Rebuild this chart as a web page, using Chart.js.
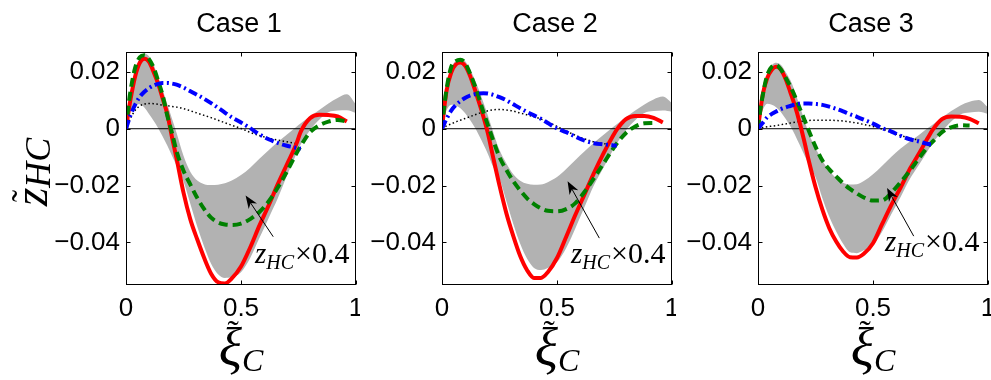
<!DOCTYPE html>
<html>
<head>
<meta charset="utf-8">
<script src="https://cdn.jsdelivr.net/npm/chart.js@4.4.1/dist/chart.umd.min.js"></script>
<style>
  html, body { margin: 0; padding: 0; background: #fff; }
  #wrap { position: relative; width: 991px; height: 380px; overflow: hidden; background: #fff; }
  #wrap canvas { position: absolute; top: 0; }
</style>
</head>
<body>
<div id="wrap">
  <canvas id="c1" width="360" height="380" style="left:0px"></canvas>
  <canvas id="c2" width="360" height="380" style="left:316px"></canvas>
  <canvas id="c3" width="360" height="380" style="left:632px"></canvas>
</div>
<script>
// ---- data ---------------------------------------------------------------
const caseTitles = ['Case 1', 'Case 2', 'Case 3'];
const xTickValues = [0, 0.5, 1];
const yTickValues = [-0.04, -0.02, 0, 0.02];

// common abscissa for all curves
const xiGrid = [0, 0.01, 0.02, 0.04, 0.06, 0.08, 0.1, 0.12, 0.14, 0.16,
  0.18, 0.2, 0.22, 0.25, 0.28, 0.31, 0.34, 0.37, 0.4, 0.43,
  0.46, 0.5, 0.54, 0.58, 0.62, 0.66, 0.7, 0.74, 0.76, 0.8,
  0.84, 0.88, 0.92, 0.96, 1.0];

// Case 1
const case1Red = [0, 0.0055, 0.0105, 0.0185, 0.0232, 0.0246, 0.0235, 0.0200, 0.0158, 0.0105,
  0.0050, -0.0030, -0.0105, -0.0225, -0.0320, -0.0390, -0.0455, -0.0510, -0.0540, -0.0545,
  -0.0527, -0.0485, -0.0418, -0.0341, -0.0270, -0.0195, -0.0125, -0.0055, -0.0010, 0.0037,
  0.0049, 0.0048, 0.0043, 0.0025, null];
const case1Green = [0, 0.0075, 0.0135, 0.0215, 0.0252, 0.0259, 0.0245, 0.0215, 0.0168, 0.0115,
  0.0045, -0.0015, -0.0080, -0.0148, -0.0197, -0.0244, -0.0283, -0.0313, -0.0330, -0.0337,
  -0.0339, -0.0334, -0.0318, -0.0293, -0.0256, -0.0207, -0.0150, -0.0088, -0.0060, -0.0012,
  0.0012, 0.0025, 0.0031, 0.0025, null];
const case1Blue = [0, 0.0025, 0.0048, 0.0085, 0.0112, 0.0130, 0.0143, 0.0152, 0.0158, 0.0161,
  0.0161, 0.0159, 0.0155, 0.0145, 0.0132, 0.0119, 0.0105, 0.0090, 0.0074, 0.0057,
  0.0040, 0.0022, 0.0002, -0.0020, -0.0037, -0.0050, -0.0060, -0.0067, -0.0070, null,
  null, null, null, null, null];
const case1Dotted = [0, 0.0020, 0.0038, 0.0065, 0.0080, 0.0087, 0.0089, 0.0088, 0.0086, 0.0083,
  0.0081, 0.0078, 0.0076, 0.0071, 0.0063, 0.0055, 0.0047, 0.0039, 0.0030, 0.0021,
  0.0012, 0.0001, -0.0013, -0.0024, -0.0033, -0.0040, -0.0046, -0.0052, null, null,
  null, null, null, null, null];
const case1Upper = [0, 0.0070, 0.0130, 0.0205, 0.0248, 0.0265, 0.0255, 0.0225, 0.0182, 0.0135,
  0.0085, 0.0035, -0.0015, -0.0095, -0.0152, -0.0182, -0.0195, -0.0198, -0.0197, -0.0192,
  -0.0182, -0.0163, -0.0137, -0.0106, -0.0076, -0.0047, -0.0020, 0.0006, 0.0019, 0.0043,
  0.0066, 0.0089, 0.0108, 0.0121, 0.0085];
const case1Lower = [0, 0.0035, 0.0060, 0.0085, 0.0086, 0.0075, 0.0052, 0.0028, 0.0002, -0.0028,
  -0.0060, -0.0095, -0.0130, -0.0185, -0.0265, -0.0345, -0.0415, -0.0475, -0.0512, -0.0525,
  -0.0522, -0.0505, -0.0455, -0.0385, -0.0315, -0.0245, -0.0165, -0.0090, -0.0055, -0.0005,
  0.0032, 0.0058, 0.0064, 0.0065, 0.0055];

// Case 2
const case2Red = [0, 0.0075, 0.0135, 0.0198, 0.0226, 0.0233, 0.0222, 0.0190, 0.0145, 0.0095,
  0.0042, -0.0018, -0.0092, -0.0200, -0.0298, -0.0378, -0.0448, -0.0498, -0.0525, -0.0525,
  -0.0505, -0.0455, -0.0380, -0.0303, -0.0230, -0.0157, -0.0090, -0.0030, -0.0003, 0.0034,
  0.0045, 0.0045, 0.0038, 0.0022, null];
const case2Green = [0, 0.0080, 0.0140, 0.0218, 0.0238, 0.0243, 0.0232, 0.0198, 0.0158, 0.0110,
  0.0058, 0.0012, -0.0035, -0.0100, -0.0145, -0.0185, -0.0217, -0.0245, -0.0265, -0.0280,
  -0.0289, -0.0291, -0.0283, -0.0262, -0.0222, -0.0175, -0.0125, -0.0075, -0.0052, -0.0015,
  0.0008, 0.0019, 0.0020, null, null];
const case2Blue = [0, 0.0018, 0.0035, 0.0064, 0.0083, 0.0097, 0.0108, 0.0116, 0.0121, 0.0124,
  0.0125, 0.0124, 0.0120, 0.0111, 0.0100, 0.0086, 0.0072, 0.0059, 0.0047, 0.0035,
  0.0020, 0.0001, -0.0012, -0.0028, -0.0042, -0.0051, -0.0055, -0.0058, -0.0060, null,
  null, null, null, null, null];
const case2Dotted = [0, 0.0005, 0.0010, 0.0017, 0.0024, 0.0030, 0.0036, 0.0042, 0.0048, 0.0054,
  0.0059, 0.0063, 0.0066, 0.0068, 0.0066, 0.0062, 0.0055, 0.0049, 0.0042, 0.0034,
  0.0024, 0.0008, -0.0008, -0.0023, -0.0036, -0.0046, -0.0052, -0.0056, null, null,
  null, null, null, null, null];
const case2Upper = [0, 0.0075, 0.0135, 0.0210, 0.0240, 0.0248, 0.0238, 0.0212, 0.0178, 0.0138,
  0.0092, 0.0045, -0.0005, -0.0075, -0.0122, -0.0160, -0.0183, -0.0194, -0.0197, -0.0196,
  -0.0188, -0.0170, -0.0142, -0.0110, -0.0079, -0.0050, -0.0023, 0.0003, 0.0016, 0.0040,
  0.0064, 0.0085, 0.0103, 0.0113, 0.0090];
const case2Lower = [0, 0.0040, 0.0065, 0.0084, 0.0082, 0.0072, 0.0055, 0.0033, 0.0008, -0.0022,
  -0.0055, -0.0090, -0.0130, -0.0175, -0.0255, -0.0335, -0.0405, -0.0458, -0.0490, -0.0497,
  -0.0490, -0.0470, -0.0420, -0.0350, -0.0275, -0.0200, -0.0140, -0.0080, -0.0052, -0.0005,
  0.0030, 0.0055, 0.0062, 0.0064, 0.0060];

// Case 3
const case3Red = [0, 0.0062, 0.0118, 0.0178, 0.0208, 0.0218, 0.0207, 0.0175, 0.0130, 0.0082,
  0.0025, -0.0040, -0.0110, -0.0205, -0.0285, -0.0350, -0.0397, -0.0432, -0.0452, -0.0453,
  -0.0440, -0.0403, -0.0335, -0.0268, -0.0207, -0.0142, -0.0087, -0.0030, -0.0003, 0.0034,
  0.0043, 0.0042, 0.0035, 0.0019, null];
const case3Green = [0, 0.0065, 0.0115, 0.0188, 0.0218, 0.0223, 0.0208, 0.0180, 0.0150, 0.0115,
  0.0075, 0.0035, -0.0005, -0.0063, -0.0112, -0.0143, -0.0168, -0.0192, -0.0212, -0.0228,
  -0.0242, -0.0253, -0.0252, -0.0225, -0.0188, -0.0148, -0.0104, -0.0062, -0.0045, -0.0012,
  0.0005, 0.0012, 0.0011, null, null];
const case3Blue = [0, 0.0010, 0.0020, 0.0040, 0.0052, 0.0061, 0.0069, 0.0075, 0.0080, 0.0085,
  0.0088, 0.0089, 0.0089, 0.0087, 0.0084, 0.0078, 0.0070, 0.0061, 0.0051, 0.0042,
  0.0032, 0.0018, 0.0002, -0.0010, -0.0025, -0.0037, -0.0045, -0.0054, -0.0055, null,
  null, null, null, null, null];
const case3Dotted = [0, 0.0002, 0.0004, 0.0007, 0.0009, 0.0011, 0.0014, 0.0017, 0.0020, 0.0023,
  0.0025, 0.0027, 0.0029, 0.0030, 0.0030, 0.0030, 0.0029, 0.0027, 0.0024, 0.0020,
  0.0015, 0.0008, -0.0001, -0.0013, -0.0024, -0.0033, -0.0040, null, null, null,
  null, null, null, null, null];
const case3Upper = [0, 0.0070, 0.0120, 0.0190, 0.0223, 0.0232, 0.0224, 0.0200, 0.0172, 0.0132,
  0.0083, 0.0035, -0.0015, -0.0068, -0.0113, -0.0148, -0.0174, -0.0190, -0.0196, -0.0195,
  -0.0184, -0.0160, -0.0130, -0.0099, -0.0070, -0.0045, -0.0022, 0.0003, 0.0015, 0.0038,
  0.0062, 0.0082, 0.0095, 0.0101, 0.0075];
const case3Lower = [0, 0.0040, 0.0065, 0.0088, 0.0084, 0.0075, 0.0058, 0.0035, 0.0010, -0.0020,
  -0.0055, -0.0090, -0.0125, -0.0170, -0.0245, -0.0310, -0.0362, -0.0405, -0.0435, -0.0438,
  -0.0428, -0.0410, -0.0362, -0.0300, -0.0240, -0.0177, -0.0127, -0.0075, -0.0050, -0.0010,
  0.0025, 0.0050, 0.0057, 0.0060, 0.0052];

const scaleFactorLabel = '\u00d70.4';

// ---- drawing ------------------------------------------------------------
const SANS = '"Liberation Sans", Arial, Helvetica, sans-serif';
const SERIF = '"Liberation Serif", "Times New Roman", serif';
const BAND = 'rgb(178,178,178)';

function toPoints(xs, ys) {
  const out = [];
  xs.forEach((x, i) => { if (ys[i] !== null && ys[i] !== undefined) out.push({ x, y: ys[i] }); });
  return out;
}

function tickText(v) {
  if (Math.abs(v) < 1e-12) return '0';
  const s = String(+v.toFixed(3));
  return s.replace(/^-/, '\u2212');
}

// z_HC x0.4 label next to the arrow pointing into the band
function drawScaledLabel(ctx, x, y) {
  ctx.textAlign = 'left';
  ctx.textBaseline = 'alphabetic';
  ctx.fillStyle = '#000';
  ctx.font = 'italic 29px ' + SERIF;
  ctx.fillText('z', x, y);
  let cx = x + ctx.measureText('z').width;
  ctx.font = 'italic 20px ' + SERIF;
  ctx.fillText('HC', cx, y + 6);
  cx += ctx.measureText('HC').width + 1;
  ctx.font = '30px ' + SERIF;
  ctx.fillText(scaleFactorLabel, cx, y);
}

function drawArrow(ctx, x0, y0, x1, y1) {
  const ang = Math.atan2(y1 - y0, x1 - x0);
  const len = 13, half = 5;
  ctx.strokeStyle = '#000';
  ctx.lineWidth = 1;
  ctx.beginPath();
  ctx.moveTo(x0, y0);
  ctx.lineTo(x1 - Math.cos(ang) * len * 0.6, y1 - Math.sin(ang) * len * 0.6);
  ctx.stroke();
  const bx = x1 - Math.cos(ang) * len, by = y1 - Math.sin(ang) * len;
  const nx = -Math.sin(ang), ny = Math.cos(ang);
  const mx = x1 - Math.cos(ang) * len * 0.7, my = y1 - Math.sin(ang) * len * 0.7;
  ctx.fillStyle = '#000';
  ctx.beginPath();
  ctx.moveTo(x1, y1);
  ctx.lineTo(bx + nx * half, by + ny * half);
  ctx.lineTo(mx, my);
  ctx.lineTo(bx - nx * half, by - ny * half);
  ctx.closePath();
  ctx.fill();
}

function drawXLabel(ctx, cx) {
  ctx.fillStyle = '#000';
  ctx.textBaseline = 'alphabetic';
  ctx.textAlign = 'left';
  ctx.font = 'italic 54px ' + SERIF;
  const wXi = ctx.measureText('\u03be').width;
  ctx.font = 'italic 32px ' + SERIF;
  const wC = ctx.measureText('C').width;
  const x0 = cx - (wXi + wC) / 2;
  ctx.font = 'italic 54px ' + SERIF;
  ctx.fillText('\u03be', x0, 366);
  ctx.font = '34px ' + SERIF;
  ctx.textAlign = 'center';
  ctx.fillText('\u02dc', x0 + wXi * 0.62, 344);
  ctx.textAlign = 'left';
  ctx.font = 'italic 32px ' + SERIF;
  ctx.fillText('C', x0 + wXi, 371);
}

function drawYLabel(ctx, bx, cy) {
  ctx.save();
  ctx.translate(bx, cy);
  ctx.rotate(-Math.PI / 2);
  ctx.fillStyle = '#000';
  ctx.textBaseline = 'alphabetic';
  ctx.textAlign = 'left';
  ctx.font = 'italic 48px ' + SERIF;
  const wz = ctx.measureText('z').width;
  ctx.font = 'italic 36px ' + SERIF;
  const wh = ctx.measureText('HC').width;
  const x0 = -(wz + wh) / 2;
  ctx.font = 'italic 48px ' + SERIF;
  ctx.fillText('z', x0, 0);
  ctx.font = '36px ' + SERIF;
  ctx.textAlign = 'center';
  ctx.fillText('\u02dc', x0 + wz * 0.55, -10);
  ctx.textAlign = 'left';
  ctx.font = 'italic 36px ' + SERIF;
  ctx.fillText('HC', x0 + wz, 3);
  ctx.restore();
}

const panelDecor = {
  id: 'panelDecor',
  afterDatasetsDraw(chart, args, opts) {
    const { ctx, chartArea: a, scales: { x, y } } = chart;
    ctx.save();
    ctx.strokeStyle = '#000';
    ctx.lineWidth = 1;
    const L = Math.round(a.left) + 0.5, T = Math.round(a.top) + 0.5;
    const R = Math.round(a.right) - 0.5, B = Math.round(a.bottom) - 0.5;
    ctx.strokeRect(L, T, R - L, B - T);
    const tl = 4;
    ctx.beginPath();
    xTickValues.forEach(v => {
      const px = Math.round(x.getPixelForValue(v)) + 0.5;
      ctx.moveTo(px, B); ctx.lineTo(px, B - tl);
      ctx.moveTo(px, T); ctx.lineTo(px, T + tl);
    });
    yTickValues.forEach(v => {
      const py = Math.round(y.getPixelForValue(v)) + 0.5;
      ctx.moveTo(L, py); ctx.lineTo(L + tl, py);
      ctx.moveTo(R, py); ctx.lineTo(R - tl, py);
    });
    ctx.stroke();
    ctx.restore();
  },
  afterDraw(chart, args, opts) {
    const { ctx, chartArea: a, scales: { x, y } } = chart;
    ctx.save();
    // panel title
    ctx.fillStyle = '#000';
    ctx.font = '27px ' + SANS;
    ctx.textAlign = 'center';
    ctx.textBaseline = 'alphabetic';
    ctx.fillText(opts.title, (a.left + a.right) / 2 - 2, 32);
    // arrow + scaled label
    drawArrow(ctx, x.getPixelForValue(opts.tail[0]), y.getPixelForValue(opts.tail[1]),
      x.getPixelForValue(opts.tip[0]), y.getPixelForValue(opts.tip[1]));
    drawScaledLabel(ctx, x.getPixelForValue(opts.label[0]), y.getPixelForValue(opts.label[1]));
    // axis titles
    drawXLabel(ctx, (a.left + a.right) / 2);
    if (opts.yTitle) drawYLabel(ctx, 47, 172);
    ctx.restore();
  }
};

function makePanel(canvasId, title, red, green, blue, dotted, upper, lower, deco) {
  const line = (data, color, width, dash, order) => ({
    data, borderColor: color, borderWidth: width, borderDash: dash,
    pointRadius: 0, fill: false, order, cubicInterpolationMode: 'monotone',
    borderCapStyle: 'butt'
  });
  const datasets = [
    line(toPoints(xiGrid, blue), '#0000ff', 4, [9, 3.5, 2, 3.5], 1),
    line(toPoints(xiGrid, green), '#008000', 4, [9, 5], 2),
    line(toPoints(xiGrid, red), '#ff0000', 4, [], 3),
    line(toPoints(xiGrid, dotted), '#000000', 1.5, [1.5, 2.5], 4),
    { data: [{ x: 0, y: 0 }, { x: 1, y: 0 }], borderColor: '#000', borderWidth: 1,
      pointRadius: 0, fill: false, order: 5, tension: 0 },
    { data: toPoints(xiGrid, upper), borderColor: 'rgba(0,0,0,0)', borderWidth: 1,
      backgroundColor: BAND, pointRadius: 0, fill: '+1', order: 10,
      cubicInterpolationMode: 'monotone' },
    { data: toPoints(xiGrid, lower), borderColor: 'rgba(0,0,0,0)', borderWidth: 1,
      pointRadius: 0, fill: false, order: 11, cubicInterpolationMode: 'monotone' }
  ];
  return new Chart(document.getElementById(canvasId), {
    type: 'line',
    data: { datasets },
    options: {
      responsive: false,
      animation: false,
      devicePixelRatio: 1,
      layout: { padding: { left: 0, right: 4, top: 52, bottom: 55 } },
      plugins: {
        legend: { display: false },
        tooltip: { enabled: false },
        panelDecor: Object.assign({ title }, deco)
      },
      scales: {
        x: {
          type: 'linear', min: 0, max: 1, position: 'bottom',
          afterBuildTicks: s => { s.ticks = xTickValues.map(v => ({ value: v })); },
          afterFit: s => { s.height = 40; s.paddingLeft = 0; s.paddingRight = 0; },
          grid: { display: false, drawTicks: false },
          border: { display: false },
          ticks: {
            color: '#000', font: { family: SANS, size: 26 }, padding: 8,
            maxRotation: 0, autoSkip: false, callback: v => tickText(v)
          }
        },
        y: {
          type: 'linear', min: -0.055, max: 0.027,
          afterBuildTicks: s => { s.ticks = yTickValues.map(v => ({ value: v })); },
          afterFit: s => { s.width = 126; s.paddingTop = 0; s.paddingBottom = 0; },
          grid: { display: false, drawTicks: false },
          border: { display: false },
          ticks: {
            color: '#000', font: { family: SANS, size: 26 }, padding: 6,
            autoSkip: false, callback: v => tickText(v)
          }
        }
      }
    },
    plugins: [panelDecor]
  });
}

makePanel('c1', caseTitles[0], case1Red, case1Green, case1Blue, case1Dotted, case1Upper, case1Lower,
  { tip: [0.52, -0.0235], tail: [0.64, -0.038], label: [0.561, -0.0472], yTitle: true });
makePanel('c2', caseTitles[1], case2Red, case2Green, case2Blue, case2Dotted, case2Upper, case2Lower,
  { tip: [0.546, -0.0185], tail: [0.684, -0.0385], label: [0.561, -0.0472], yTitle: false });
makePanel('c3', caseTitles[2], case3Red, case3Green, case3Blue, case3Dotted, case3Upper, case3Lower,
  { tip: [0.561, -0.0209], tail: [0.677, -0.0378], label: [0.552, -0.043], yTitle: false });
</script>
</body>
</html>
